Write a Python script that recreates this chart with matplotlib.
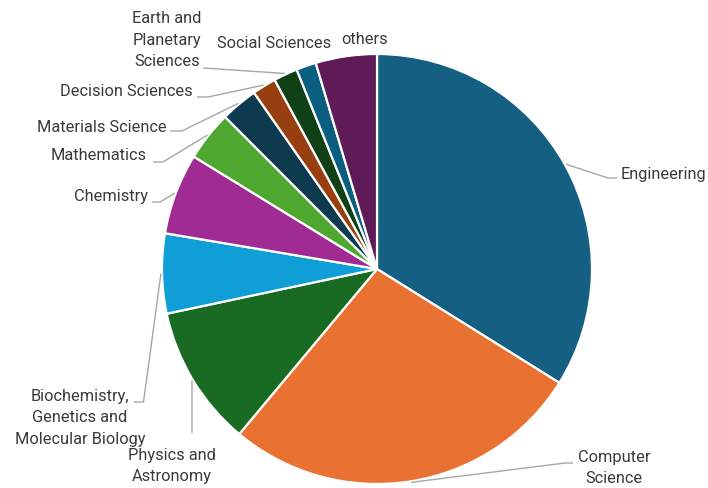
import numpy as np
import matplotlib
matplotlib.use("Agg")
import matplotlib.pyplot as plt

# Share of publications by subject area (percent)
categories = [
    "Engineering", "Computer\nScience", "Physics and\nAstronomy",
    "Biochemistry,\nGenetics and\nMolecular Biology", "Chemistry",
    "Mathematics", "Materials Science", "Decision Sciences",
    "Earth and\nPlanetary\nSciences", "Social Sciences", "others",
]
shares = [33.9, 27.2, 10.6, 6.0, 6.1, 3.75, 2.8, 1.8, 1.8, 1.5, 4.6]
colors = [
    "#156082", "#E97132", "#196B24", "#0F9ED5", "#A02B93", "#4EA72E",
    "#0E3A4F", "#973F11", "#0F4016", "#0A5F80", "#5F1A58",
]

W, H = 708, 488
CX, CY, R = 377, 269, 215  # pie centre and radius in pixels


def px(x, y):
    """Convert pixel layout position (origin top-left) into data units."""
    return (x - CX) / R, (CY - y) / R


plt.rcParams["font.family"] = ["Roboto", "DejaVu Sans"]
fig = plt.figure(figsize=(W / 100, H / 100), dpi=100)
ax = fig.add_axes([0, 0, 1, 1])

wedges, _ = ax.pie(
    shares, colors=colors, startangle=90, counterclock=False,
    radius=1, center=(0, 0),
    wedgeprops=dict(edgecolor="white", linewidth=1.6),
)
ax.set_xlim(-CX / R, (W - CX) / R)
ax.set_ylim(-(H - CY) / R, CY / R)
ax.set_aspect("equal")
ax.axis("off")

text_color = "#3A3A3A"
line_color = "#A6A6A6"
fs = 11.8

# label layout: (text anchor px, ha, path of leader line after edge point in px)
layout = [
    ((621, 174), "left", [(608, 178), (617, 178)]),
    ((614, 468), "center", [(565, 463), (573, 463)]),
    ((172, 466), "center", [(192, 433)]),
    ((80, 418), "center", [(143.5, 402), (134, 402)]),
    ((148, 197), "right", [(160, 202), (152, 202)]),
    ((147, 156), "right", [(163, 162), (153, 162)]),
    ((167, 127), "right", [(182, 131), (170, 131)]),
    ((193, 92), "right", [(208, 97), (197, 97)]),
    ((167, 40), "center", [(203, 68)]),
    ((274, 44), "center", []),
    ((365, 40), "center", []),
]

for wedge, label, (tpos, ha, path) in zip(wedges, categories, layout):
    mid = np.deg2rad((wedge.theta1 + wedge.theta2) / 2)
    if path:
        ex, ey = 1.005 * np.cos(mid), 1.005 * np.sin(mid)
        pts = [(ex, ey)] + [px(*p) for p in path]
        xs, ys = zip(*pts)
        ax.plot(xs, ys, color=line_color, lw=1.0, solid_capstyle="butt")
    tx, ty = px(*tpos)
    ax.text(tx, ty, label, ha=ha, va="center", fontsize=fs,
            color=text_color, multialignment="center", linespacing=1.55)

fig.savefig("out.png", dpi=100)
